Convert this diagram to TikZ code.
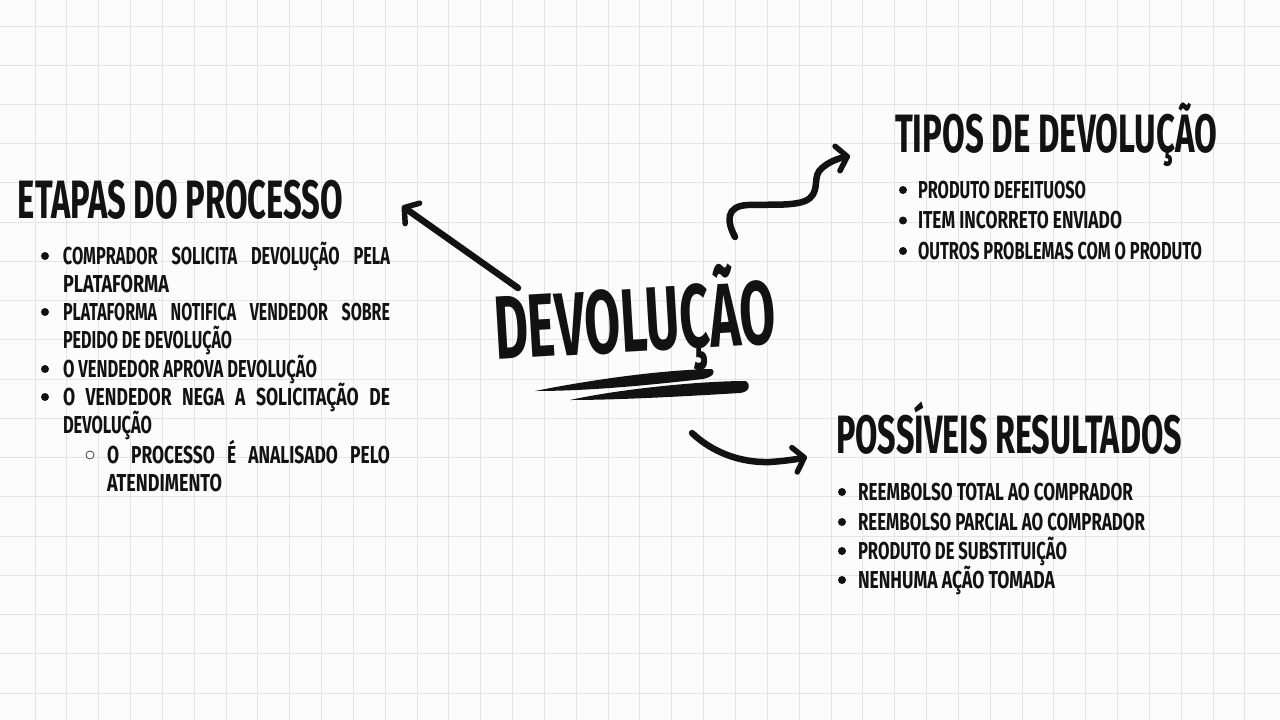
\documentclass[tikz,border=0pt]{standalone}
\usepackage{fontspec}
\usetikzlibrary{arrows.meta}
\newfontfamily\brush{Fira Sans}
\definecolor{gridc}{HTML}{E4E4E4}
\definecolor{ink}{HTML}{121212}
\definecolor{paper}{HTML}{FCFCFC}
\newcommand\bodyfont{\fontsize{24.5}{25}\selectfont\brush\bfseries}
\newcommand\headfont{\fontsize{54}{54}\selectfont\brush\bfseries}
\newcommand\bigfont{\fontsize{90}{90}\selectfont\brush\bfseries}
\newcommand\fitline[5]{\node[txt,font=#5,anchor=base west] (#1) at (#2) {\resizebox{#3}{\height}{#4}};}
\newcommand\justline[5]{\node[txt,font=#5,anchor=base west] (#1) at (#2) {\resizebox{#3}{\height}{\sbox0{#4}\makebox[\dimexpr\wd0+45pt\relax][s]{#4}}};}
\begin{document}
\begin{tikzpicture}[x=1pt,y=-1pt,
  txt/.style={inner sep=0pt,outer sep=0pt,text=ink},
  gridline/.style={draw=gridc,line width=1pt},
  dot/.style={circle,fill=ink,inner sep=0pt,minimum size=8pt},
  odot/.style={circle,draw=ink!80,line width=0.8pt,fill=white,inner sep=0pt,minimum size=8pt},
  brushline/.style={draw=ink,line width=6.5pt,line cap=round,
    -{Straight Barb[length=10pt,width=25pt,line width=5.5pt,round]}},
  brushfill/.style={fill=ink}]
\useasboundingbox (0,0) rectangle (1280,720);
\fill[paper] (0,0) rectangle (1280,720);
% grid
\foreach \k in {0,...,17} {\draw[gridline] (0,26+39.24*\k) -- (1280,26+39.24*\k);}
\foreach \k in {0,...,38} {\draw[gridline] (35+31.84*\k,0) -- (35+31.84*\k,720);}

% central title
\node[txt,font=\bigfont,rotate=3.4] (centro) at (635,322) {\resizebox{282pt}{\height}{DEVOLUÇÃO}};
% brush underline
\fill[brushfill] (535,391) .. controls (590,380) and (660,370) .. (712,369)
  .. controls (716,372) and (713,377) .. (703,379) .. controls (650,385) and (590,391) .. cycle;
\fill[brushfill] (570,400) .. controls (620,389) and (700,381) .. (746,381)
  .. controls (751,384) and (750,392) .. (740,393) .. controls (690,396) and (620,400) .. cycle;

% headings
\fitline{etapas}{18,218}{325pt}{ETAPAS DO PROCESSO}{\headfont}
\fitline{tipos}{895,152}{322pt}{TIPOS DE DEVOLUÇÃO}{\headfont}
\fitline{resultados}{836,453}{346pt}{POSSÍVEIS RESULTADOS}{\headfont}

% arrows
\coordinate (a0) at (518,288);
\coordinate (a1) at (402,206);
\draw[brushline] (a0) -- (a1);
\coordinate (b0) at (735,237);
\coordinate (b1) at (850,156);
\draw[brushline] (b0) .. controls (727,222) and (725,206) .. (748,205)
  .. controls (770,204) and (800,207) .. (810,198)
  .. controls (820,189) and (812,176) .. (822,168)
  .. controls (830,161) and (840,158) .. (b1);
\coordinate (c0) at (692,433);
\coordinate (c1) at (807,457);
\draw[brushline] (c0) .. controls (712,452) and (740,463) .. (770,462)
  .. controls (785,461) and (798,459) .. (c1);

% left list
\node[dot] (d1) at (45,256) {};
\justline{l1}{63,264}{327pt}{COMPRADOR SOLICITA DEVOLUÇÃO PELA}{\bodyfont}
\fitline{l2}{63,292}{106pt}{PLATAFORMA}{\bodyfont}
\node[dot] (d2) at (45,312) {};
\justline{l3}{63,320}{327pt}{PLATAFORMA NOTIFICA VENDEDOR SOBRE}{\bodyfont}
\fitline{l4}{63,348}{169pt}{PEDIDO DE DEVOLUÇÃO}{\bodyfont}
\node[dot] (d3) at (45,369) {};
\fitline{l5}{63,377}{254pt}{O VENDEDOR APROVA DEVOLUÇÃO}{\bodyfont}
\node[dot] (d4) at (45,397) {};
\justline{l6}{63,405}{327pt}{O VENDEDOR NEGA A SOLICITAÇÃO DE}{\bodyfont}
\fitline{l7}{63,433}{89pt}{DEVOLUÇÃO}{\bodyfont}
\node[odot] (d5) at (90,455) {};
\justline{l8}{107,463}{283pt}{O PROCESSO É ANALISADO PELO}{\bodyfont}
\fitline{l9}{107,491}{115pt}{ATENDIMENTO}{\bodyfont}

% tipos list
\node[dot] (t1d) at (903,190) {};
\fitline{t1}{918,198}{168pt}{PRODUTO DEFEITUOSO}{\bodyfont}
\node[dot] (t2d) at (903,220.5) {};
\fitline{t2}{918,228.5}{204pt}{ITEM INCORRETO ENVIADO}{\bodyfont}
\node[dot] (t3d) at (903,251) {};
\fitline{t3}{918,259}{284pt}{OUTROS PROBLEMAS COM O PRODUTO}{\bodyfont}

% resultados list
\node[dot] (r1d) at (842,492) {};
\fitline{r1}{858,500}{275pt}{REEMBOLSO TOTAL AO COMPRADOR}{\bodyfont}
\node[dot] (r2d) at (842,522) {};
\fitline{r2}{858,530}{287pt}{REEMBOLSO PARCIAL AO COMPRADOR}{\bodyfont}
\node[dot] (r3d) at (842,551) {};
\fitline{r3}{858,559}{209pt}{PRODUTO DE SUBSTITUIÇÃO}{\bodyfont}
\node[dot] (r4d) at (842,580) {};
\fitline{r4}{858,588}{197pt}{NENHUMA AÇÃO TOMADA}{\bodyfont}
\end{tikzpicture}
\end{document}
